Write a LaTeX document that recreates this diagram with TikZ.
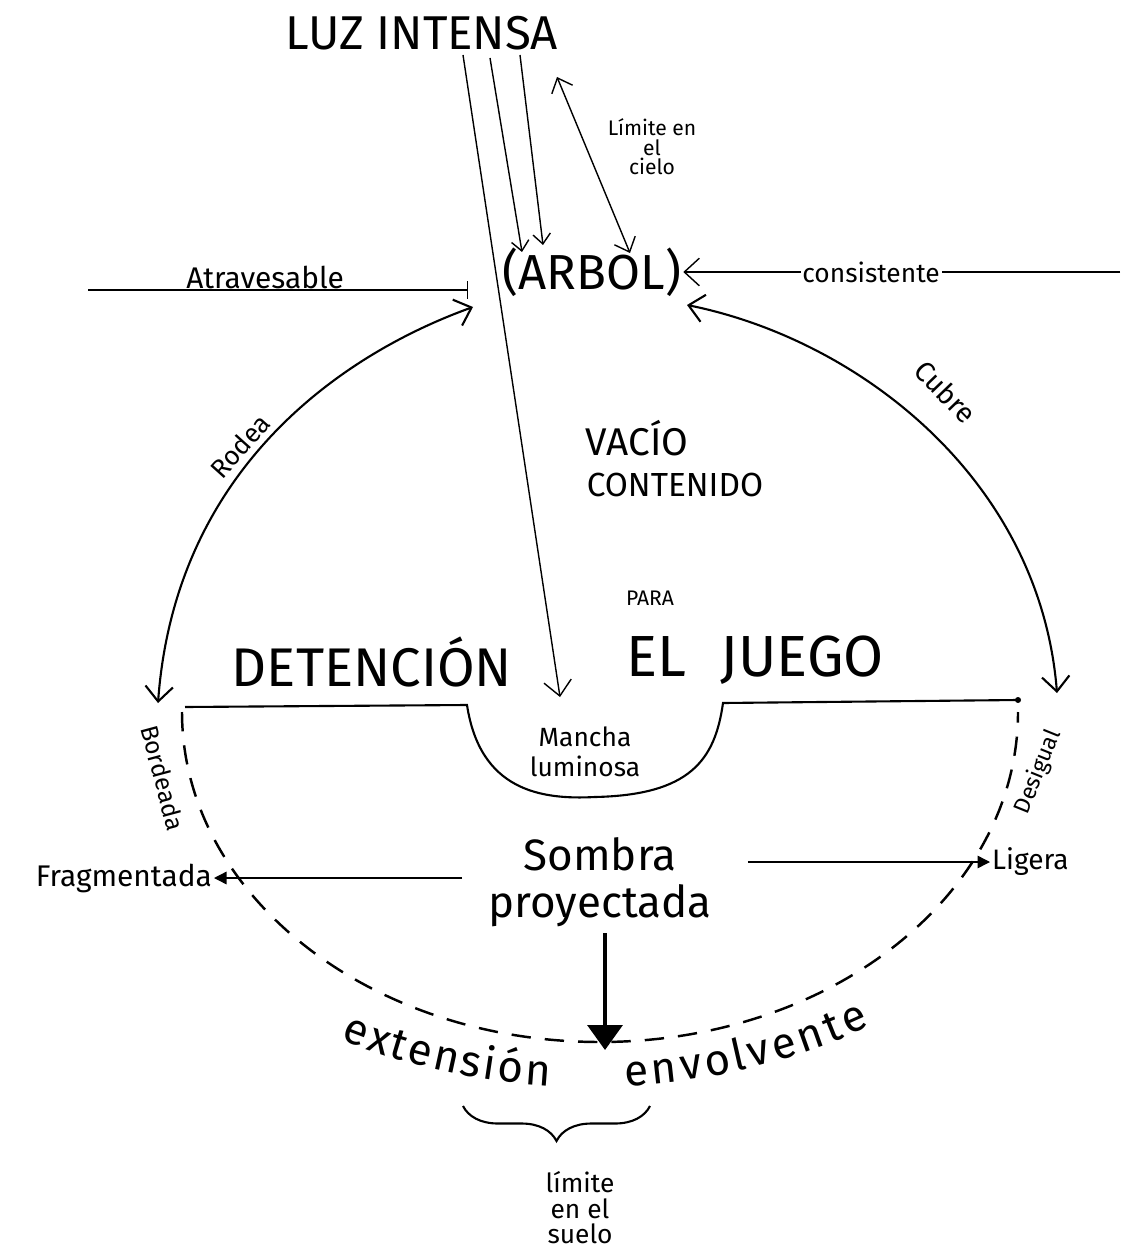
\documentclass[tikz,border=0pt]{standalone}
\usepackage{fontspec}
\setmainfont{Fira Sans}
\usetikzlibrary{arrows.meta,decorations.pathreplacing,decorations.text,calc}

\begin{document}
\begin{tikzpicture}[x=0.2mm,y=-0.2mm]
\tikzset{
	word/.style = {inner sep = 1pt, font = \fontsize{#1}{#1}\selectfont},
	thin line/.style = {line width = 0.8pt},
	main line/.style = {line width = 1.2pt},
	dashed line/.style = {line width = 1.4pt, dash pattern = on 11pt off 8pt},
	>={Straight Barb[length=3mm,width=5.5mm]},
}
\useasboundingbox (0,0) rectangle (1131,1255);

% texts
\node (luz) [word=27] at (422,33) {LUZ INTENSA};
\node (arbol) [word=28] at (592,272) {(ARBOL)};
\node (cielo) [align=center, font=\fontsize{12}{11}\selectfont] at (652,147) {Límite en\\el\\cielo};
\node (vacio) [word=22] at (637,438) {VACÍO};
\node (contenido) [word=19] at (675,485) {CONTENIDO};
\node (para) [word=12] at (650,598) {PARA};
\node (detencion) [word=31] at (372,662) {DETENCIÓN};
\node (juego) [word=33] at (755,660) {EL\hspace{0.6em}JUEGO};
\node (mancha) [align=center, font=\fontsize{15}{17}\selectfont] at (585,752) {Mancha\\luminosa};
\node (sombra) [align=center, font=\fontsize{25}{27}\selectfont] at (600,882) {Sombra\\proyectada};
\node (frag) [word=17, anchor=east] at (214,878) {Fragmentada};
\node (ligera) [word=16, anchor=west] at (990,862) {Ligera};
\node (suelo) [align=center, font=\fontsize{15}{14.5}\selectfont] at (580,1208) {límite\\en el\\suelo};
\node (rodea) [word=15, rotate=48] at (240,446) {Rodea};
\node (cubre) [word=16, rotate=-46] at (946,392) {Cubre};
\node (bordeada) [word=14, rotate=-75] at (163,778) {Bordeada};
\node (desigual) [word=13, rotate=68] at (1038,772) {Desigual};

\coordinate (luz0) at (463,55);
\coordinate (luz1) at (490,58);
\coordinate (luz2) at (520,55);
\coordinate (rayo) at (560,697);
\coordinate (arbol1) at (522,252);
\coordinate (arbol2) at (543,245);
\coordinate (cieloA) at (557,77);
\coordinate (cieloB) at (630,253);
\coordinate (rodeaA) at (473,307);
\coordinate (rodeaB) at (158,703);
\coordinate (cubreA) at (687,305);
\coordinate (cubreB) at (1057,693);
\coordinate (sueloL) at (185,707);
\coordinate (sueloR) at (1018,700);
\coordinate (atrav) at (88,290);
\coordinate (atravB) at (468,290);
\coordinate (cons) at (1120,272);
\coordinate (caida) at (605,1050);

% light
\draw [thin line, ->] (luz0) -- (rayo);
\draw [thin line, -{Straight Barb[length=2mm,width=3.5mm]}] (luz1) -- (arbol1);
\draw [thin line, -{Straight Barb[length=2mm,width=3.5mm]}] (luz2) -- (arbol2);
\draw [thin line, {Straight Barb[length=2.5mm,width=4.5mm]}-{Straight Barb[length=2.5mm,width=4.5mm]}] (cieloA) -- (cieloB);

\draw [thin line, -{Bar[width=3.5mm]}] (atrav) -- (atravB)
	node [pos=0.466, above, word=17, inner sep=0pt] {Atravesable};
\draw [thin line, ->] (cons) -- (arbol.east)
	node [pos=0.57, fill=white, word=15] {consistente};

\draw [main line, <->] (rodeaA) .. controls (340,355) and (175,470) .. (rodeaB);
\draw [main line, <->] (cubreA) .. controls (860,340) and (1040,480) .. (cubreB);

% ground
\draw [main line] (sueloL) -- (467,705) .. controls (480,790) and (540,800) .. (595,797)
	.. controls (690,795) and (715,760) .. (723,703) -- (sueloR);
\fill (sueloR) circle (3);
\draw [dashed line] (182,712) arc [start angle=180, end angle=0, x radius=418, y radius=330];

\draw [thin line, -{Triangle[length=2.5mm,width=2.5mm]}, shorten <=4mm] (sombra.west |- frag.east) -- (frag.east);
\draw [thin line, -{Triangle[length=2.5mm,width=2.5mm]}, shorten <=6mm] (sombra.east |- ligera.west) -- (ligera.west);
\draw [line width=2pt, -{Triangle[length=5mm,width=7mm]}] (sombra.south -| caida) -- (caida);

\path [decorate, decoration={text along path, text align=fit to path,
	text={|\fontsize{25}{25}\selectfont|extensión}}]
	(340.3,1039.5) arc [start angle=118.7, end angle=94.4, x radius=520, y radius=387];
\path [decorate, decoration={text along path, text align=fit to path,
	text={|\fontsize{25}{25}\selectfont|envolvente}}]
	(625.4,1086.1) arc [start angle=86.1, end angle=57.4, x radius=520, y radius=387];

\draw [main line, decorate, decoration={brace, mirror, amplitude=7mm}] (463,1106) -- (650,1106);

\end{tikzpicture}
\end{document}
